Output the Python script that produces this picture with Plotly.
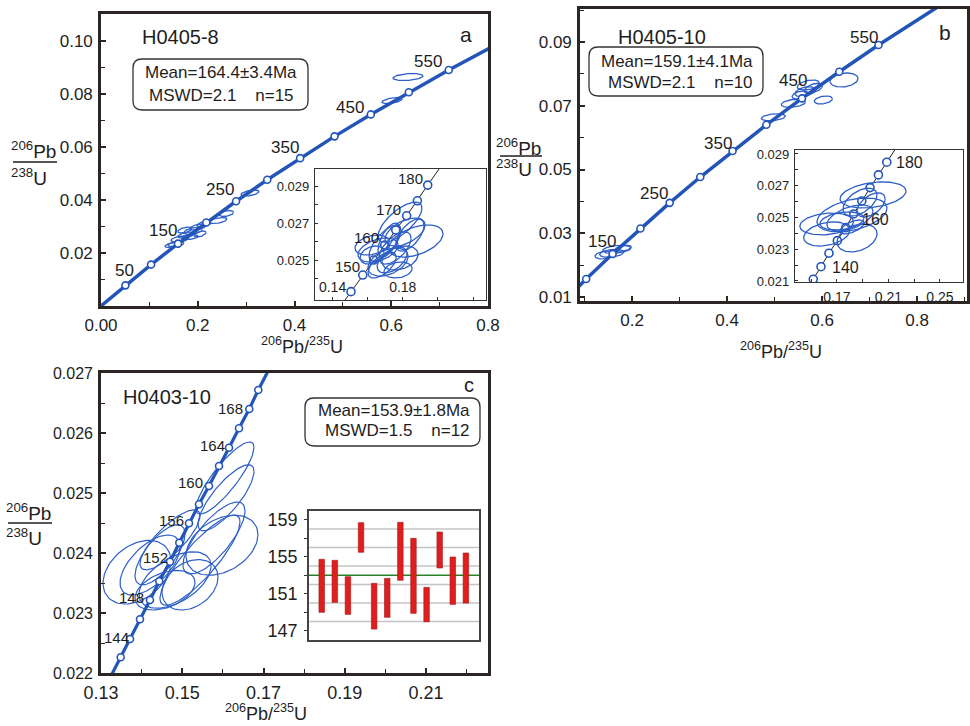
import numpy as np
import plotly.graph_objects as go

W, H = 970, 726
def PX(x): return x / W
def PY(y): return 1 - y / H

FONT = "Liberation Sans, Arial, sans-serif"
BLUE = "rgb(35,85,185)"
EBLUE = "rgb(45,95,200)"
FRAME = "#2b2523"
TXT = "#1e1e1e"

# ---------------- data ----------------
# Panel a / b main concordia (ages in Ma and their coordinates)
conc_ages = [0, 50, 100, 150, 200, 250, 300, 350, 400, 450, 500, 550, 600, 650]
conc_x = [0.0, 0.0505, 0.1035, 0.1592, 0.2177, 0.2792, 0.3437, 0.4116, 0.4828, 0.5577, 0.6363, 0.7189, 0.8056, 0.8968]
conc_y = [0.0, 0.00779, 0.01563, 0.02354, 0.03151, 0.03954, 0.04764, 0.05580, 0.06402, 0.07230, 0.08065, 0.08906, 0.09754, 0.10609]
conc_label_ages = [50, 150, 250, 350, 450, 550]

# Panel a ellipses (206Pb/235U, 206Pb/238U, half-widths, rho)
ell_a_x = [0.6346, 0.6016, 0.3080, 0.2594, 0.2419, 0.2005, 0.1902, 0.1757, 0.1633, 0.1550, 0.1840, 0.2047, 0.1736, 0.1468, 0.2129]
ell_a_y = [0.08642, 0.07755, 0.04264, 0.03491, 0.03226, 0.02981, 0.02830, 0.02679, 0.02528, 0.02340, 0.02604, 0.02717, 0.02868, 0.02302, 0.03094]
ell_a_sx = [0.0310, 0.0207, 0.0186, 0.0145, 0.0186, 0.0165, 0.0186, 0.0165, 0.0186, 0.0165, 0.0165, 0.0124, 0.0145, 0.0145, 0.0145]
ell_a_sy = [0.00132, 0.00113, 0.00113, 0.00113, 0.00113, 0.00113, 0.00132, 0.00113, 0.00113, 0.00094, 0.00094, 0.00113, 0.00113, 0.00094, 0.00113]
ell_a_rho = [0.3, 0.5, 0.5, 0.4, 0.5, 0.5, 0.4, 0.5, 0.4, 0.4, 0.3, 0.5, 0.5, 0.5, 0.5]

# Panel a inset
ins_a_cx = [0.1443, 0.1505, 0.1572, 0.1634, 0.1697, 0.1760, 0.1822, 0.1883, 0.1942, 0.2003, 0.2063]
ins_a_cy = [0.02247, 0.02329, 0.02419, 0.02500, 0.02581, 0.02662, 0.02739, 0.02820, 0.02905, 0.02987, 0.03070]
ins_a_x = [0.1875, 0.1784, 0.1625, 0.1716, 0.1739, 0.1722, 0.1813, 0.1699, 0.1784, 0.1682, 0.1659, 0.1841, 0.1756, 0.1625, 0.1773]
ins_a_y = [0.02603, 0.02705, 0.02581, 0.02489, 0.02500, 0.02608, 0.02651, 0.02592, 0.02511, 0.02473, 0.02554, 0.02635, 0.02565, 0.02527, 0.02446]
ins_a_sx = [0.0154, 0.0125, 0.0097, 0.0114, 0.0085, 0.0063, 0.0114, 0.0091, 0.0103, 0.0080, 0.0114, 0.0080, 0.0091, 0.0068, 0.0080]
ins_a_sy = [0.00087, 0.00108, 0.00054, 0.00076, 0.00070, 0.00092, 0.00076, 0.00097, 0.00065, 0.00070, 0.00065, 0.00087, 0.00087, 0.00049, 0.00043]
ins_a_rho = [0.45, 0.7, 0.3, 0.4, 0.5, 0.6, 0.5, 0.7, 0.3, 0.6, 0.4, 0.6, 0.6, 0.3, 0.2]

# Panel b ellipses
ell_b_x = [0.6463, 0.6027, 0.5396, 0.4975, 0.5711, 0.5642, 0.5817, 0.5537, 0.1572, 0.1678, 0.1431, 0.1817]
ell_b_y = [0.07808, 0.07180, 0.07077, 0.06638, 0.07651, 0.07441, 0.07548, 0.07337, 0.02371, 0.02496, 0.02318, 0.02528]
ell_b_sx = [0.0295, 0.0190, 0.0253, 0.0253, 0.0232, 0.0211, 0.0190, 0.0168, 0.0253, 0.0295, 0.0211, 0.0168]
ell_b_sy = [0.0022, 0.00125, 0.00125, 0.0011, 0.00157, 0.00157, 0.00157, 0.00125, 0.00125, 0.00125, 0.00125, 0.00094]
ell_b_rho = [0.2, 0.3, 0.3, 0.3, 0.4, 0.4, 0.5, 0.4, 0.3, 0.3, 0.3, 0.4]

# Panel b inset
ins_b_cx = [0.1452, 0.1516, 0.1576, 0.1638, 0.1703, 0.1768, 0.1830, 0.1893, 0.1957, 0.2022, 0.2087, 0.2151, 0.2215]
ins_b_cy = [0.02031, 0.02111, 0.02190, 0.02275, 0.02354, 0.02436, 0.02522, 0.02604, 0.02688, 0.02768, 0.02848, 0.02928, 0.03008]
ins_b_x = [0.1620, 0.1620, 0.1980, 0.1879, 0.1817, 0.1856, 0.1817, 0.1965, 0.1801, 0.1739]
ins_b_y = [0.02459, 0.02396, 0.02642, 0.02597, 0.02516, 0.02371, 0.02440, 0.02579, 0.02497, 0.02478]
ins_b_sx = [0.0208, 0.0179, 0.0256, 0.0132, 0.0272, 0.0155, 0.0093, 0.0109, 0.0179, 0.0171]
ins_b_sy = [0.00069, 0.00076, 0.00082, 0.00088, 0.00107, 0.00088, 0.00044, 0.00076, 0.00082, 0.00057]
ins_b_rho = [0.2, 0.3, 0.3, 0.5, 0.4, 0.3, 0.6, 0.5, 0.5, 0.3]

# Panel c concordia (ages 140..172 Ma, every 2 Ma)
conc_c_x = [0.13239, 0.13485, 0.13714, 0.13960, 0.14206, 0.14435, 0.14698, 0.14927, 0.15166,
            0.15412, 0.15658, 0.15905, 0.16151, 0.16397, 0.16650, 0.16872, 0.17118]
conc_c_y = [0.021942, 0.022262, 0.022567, 0.022895, 0.023217, 0.023528, 0.023855, 0.024172, 0.024495,
            0.024812, 0.025117, 0.025450, 0.025755, 0.026078, 0.026400, 0.026717, 0.027040]
ell_c_x = [0.16052, 0.16077, 0.15781, 0.15978, 0.13886, 0.14206, 0.14822, 0.15191, 0.14452, 0.14698, 0.15437, 0.14575]
ell_c_y = [0.02525, 0.02492, 0.02425, 0.02413, 0.02368, 0.02380, 0.02355, 0.02347, 0.02397, 0.02422, 0.02388, 0.02338]
ell_c_sx = [0.00714, 0.00689, 0.00763, 0.00886, 0.00837, 0.00738, 0.00886, 0.00689, 0.00615, 0.00738, 0.00985, 0.00738]
ell_c_sy = [0.00060, 0.00055, 0.00060, 0.00050, 0.00053, 0.00050, 0.00047, 0.00042, 0.00050, 0.00050, 0.00075, 0.00033]
ell_c_rho = [0.85, 0.8, 0.75, 0.35, 0.35, 0.6, 0.5, 0.3, 0.7, 0.8, 0.85, 0.4]

# Panel c inset: weighted-mean age bars (Ma)
bar_idx = list(range(1, 13))
bar_lo = [148.99, 150.07, 148.77, 155.48, 147.18, 148.45, 152.45, 148.88, 147.97, 153.78, 149.85, 149.99]
bar_hi = [154.72, 154.61, 152.84, 158.68, 152.12, 152.66, 158.72, 156.99, 151.69, 157.67, 154.97, 155.40]
mean_c_line = 153.0
grid_c = [148, 150, 152, 154, 156, 158]

# ---------------- helpers ----------------
def ellipses(cx, cy, sx, sy, rho, n=80):
    xs, ys = [], []
    t = np.linspace(0, 2 * np.pi, n)
    for a, b, c, d, r in zip(cx, cy, sx, sy, rho):
        xs += list(a + c * np.cos(t)) + [None]
        ys += list(b + d * (r * np.cos(t) + np.sqrt(1 - r * r) * np.sin(t))) + [None]
    return xs, ys

fig = go.Figure()

def add_ell(cx, cy, sx, sy, rho, xa, ya, w=1.3):
    xs, ys = ellipses(cx, cy, sx, sy, rho)
    fig.add_trace(go.Scatter(x=xs, y=ys, mode="lines", line=dict(color=EBLUE, width=w),
                             xaxis=xa, yaxis=ya, hoverinfo="skip"))

def add_conc(x, y, mx, my, xa, ya, lw, lc, ms):
    fig.add_trace(go.Scatter(x=x, y=y, mode="lines", line=dict(color=lc, width=lw),
                             xaxis=xa, yaxis=ya, hoverinfo="skip"))
    fig.add_trace(go.Scatter(x=mx, y=my, mode="markers",
                             marker=dict(size=ms, color="white", line=dict(color=BLUE, width=1.6)),
                             xaxis=xa, yaxis=ya, hoverinfo="skip"))

# Panel a
add_ell(ell_a_x, ell_a_y, ell_a_sx, ell_a_sy, ell_a_rho, "x", "y")
add_conc(conc_x, conc_y, conc_x[1:12], conc_y[1:12], "x", "y", 3.5, BLUE, 7)
add_conc(ins_a_cx, ins_a_cy, ins_a_cx[1:9], ins_a_cy[1:9], "x2", "y2", 1.0, "#222", 8)
add_ell(ins_a_x, ins_a_y, ins_a_sx, ins_a_sy, ins_a_rho, "x2", "y2", 1.3)
# Panel b
add_ell(ell_b_x, ell_b_y, ell_b_sx, ell_b_sy, ell_b_rho, "x3", "y3")
add_conc(conc_x, conc_y, conc_x[2:12], conc_y[2:12], "x3", "y3", 3.5, BLUE, 7)
add_conc(ins_b_cx, ins_b_cy, ins_b_cx[1:11], ins_b_cy[1:11], "x4", "y4", 1.0, "#222", 8)
add_ell(ins_b_x, ins_b_y, ins_b_sx, ins_b_sy, ins_b_rho, "x4", "y4", 1.3)
# Panel c
add_ell(ell_c_x, ell_c_y, ell_c_sx, ell_c_sy, ell_c_rho, "x5", "y5", 1.2)
add_conc(conc_c_x, conc_c_y, conc_c_x[1:16], conc_c_y[1:16], "x5", "y5", 3.2, BLUE, 7)
fig.add_trace(go.Bar(x=bar_idx, y=[h - l for h, l in zip(bar_hi, bar_lo)], base=bar_lo, width=0.42,
                     marker=dict(color="rgb(225,30,30)", line=dict(color="rgb(160,20,20)", width=0.6)),
                     xaxis="x6", yaxis="y6", hoverinfo="skip"))

# ---------------- axes ----------------
def main_axis(dom, rng, tv, tt, minor, anchor, size=17):
    return dict(domain=dom, range=rng, anchor=anchor, showline=True, mirror=True, automargin=False,
                linewidth=2.6, linecolor=FRAME, ticks="inside", ticklen=5, tickwidth=1.5,
                tickcolor=FRAME, tickvals=tv, ticktext=tt, showgrid=False, zeroline=False,
                tickfont=dict(family=FONT, size=size, color=TXT), ticklabelstandoff=2,
                minor=dict(tickvals=minor, ticks="inside", ticklen=4, tickwidth=1.3, tickcolor=FRAME))

def inset_axis(dom, rng, tv, tt, minor, anchor, size=13, inside=False, lw=1.3):
    d = dict(domain=dom, range=rng, anchor=anchor, showline=True, mirror=True, automargin=False,
             linewidth=lw, linecolor="#333", ticks="inside", ticklen=3, tickcolor="#333",
             tickvals=tv, ticktext=tt, showgrid=False, zeroline=False,
             tickfont=dict(family=FONT, size=size, color=TXT), ticklabelstandoff=2,
             minor=dict(tickvals=minor, ticks="inside", ticklen=3, tickcolor="#333"))
    if inside:
        d["ticklabelposition"] = "inside"
    return d

lay = dict(width=W, height=H, autosize=False,
           margin=dict(l=0, r=0, t=0, b=0, pad=0, autoexpand=False), showlegend=False,
           paper_bgcolor="white", plot_bgcolor="rgba(0,0,0,0)", barmode="overlay")

lay["xaxis"] = main_axis([PX(101), PX(488)], [0, 0.8], [0, 0.2, 0.4, 0.6, 0.8],
                         ["0.00", "0.2", "0.4", "0.6", "0.8"], [0.1, 0.3, 0.5, 0.7], "y")
lay["yaxis"] = main_axis([PY(306), PY(14)], [0, 0.1102], [0.02, 0.04, 0.06, 0.08, 0.10],
                         ["0.02", "0.04", "0.06", "0.08", "0.10"], [0.01, 0.03, 0.05, 0.07, 0.09], "x")
lay["xaxis2"] = inset_axis([PX(315), PX(486)], [0.130, 0.2274], [0.14, 0.18, 0.22],
                           ["0.14", "0.18", "0.22"], [0.16, 0.20], "y2", inside=True, size=14)
lay["yaxis2"] = inset_axis([PY(300), PY(169)], [0.02284, 0.02992], [0.023, 0.025, 0.027, 0.029],
                           ["0.023", "0.025", "0.027", "0.029"], [0.024, 0.026, 0.028], "x2")
lay["xaxis3"] = main_axis([PX(580), PX(967)], [0.0905, 0.9052], [0.2, 0.4, 0.6, 0.8],
                          ["0.2", "0.4", "0.6", "0.8"], [0.1, 0.3, 0.5, 0.7, 0.9], "y3")
lay["yaxis3"] = main_axis([PY(301), PY(9)], [0.008745, 0.10035], [0.01, 0.03, 0.05, 0.07, 0.09],
                          ["0.01", "0.03", "0.05", "0.07", "0.09"], [0.02, 0.04, 0.06, 0.08, 0.10], "x3")
lay["xaxis4"] = inset_axis([PX(795), PX(963)], [0.1374, 0.2679], [0.17, 0.21, 0.25],
                           ["0.17", "0.21", "0.25"], [0.15, 0.19, 0.23], "y4", size=14)
lay["yaxis4"] = inset_axis([PY(282), PY(150)], [0.020935, 0.02925], [0.021, 0.023, 0.025, 0.027, 0.029],
                           ["0.021", "0.023", "0.025", "0.027", "0.029"], [0.022, 0.024, 0.026, 0.028], "x4")
lay["xaxis5"] = main_axis([PX(101), PX(488)], [0.13, 0.22526], [0.13, 0.15, 0.17, 0.19, 0.21],
                          ["0.13", "0.15", "0.17", "0.19", "0.21"], [0.14, 0.16, 0.18, 0.20, 0.22], "y5", size=18)
lay["yaxis5"] = main_axis([PY(673), PY(373)], [0.022, 0.027], [0.022, 0.023, 0.024, 0.025, 0.026, 0.027],
                          ["0.022", "0.023", "0.024", "0.025", "0.026", "0.027"],
                          [0.0225, 0.0235, 0.0245, 0.0255, 0.0265], "x5", size=16)
lay["xaxis6"] = dict(domain=[PX(309), PX(479)], range=[0.03, 13.0], anchor="y6", showline=True, mirror=True,
                     automargin=False, linewidth=1.8, linecolor="#444", ticks="", showticklabels=False,
                     showgrid=False, zeroline=False)
lay["yaxis6"] = dict(domain=[PY(640), PY(511)], range=[146.0, 159.94], anchor="x6", showline=True, mirror=True,
                     automargin=False, linewidth=1.8, linecolor="#444", ticks="outside", ticklen=3, tickcolor="#333",
                     tickvals=[147, 151, 155, 159], showgrid=False, zeroline=False, ticklabelstandoff=3,
                     tickfont=dict(family=FONT, size=18, color=TXT),
                     minor=dict(tickvals=[149, 153, 157], ticks="outside", ticklen=3, tickcolor="#333"))

# ---------------- shapes ----------------
shapes = []
def rrect(x0, y0, x1, y1, r=9):
    p = (f"M {PX(x0+r)},{PY(y0)} L {PX(x1-r)},{PY(y0)} Q {PX(x1)},{PY(y0)} {PX(x1)},{PY(y0+r)} "
         f"L {PX(x1)},{PY(y1-r)} Q {PX(x1)},{PY(y1)} {PX(x1-r)},{PY(y1)} "
         f"L {PX(x0+r)},{PY(y1)} Q {PX(x0)},{PY(y1)} {PX(x0)},{PY(y1-r)} "
         f"L {PX(x0)},{PY(y0+r)} Q {PX(x0)},{PY(y0)} {PX(x0+r)},{PY(y0)} Z")
    shapes.append(dict(type="path", path=p, xref="paper", yref="paper",
                       line=dict(color="#333", width=1.3), fillcolor="rgba(0,0,0,0)"))
rrect(133, 59, 308, 110)
rrect(589, 47, 763, 96)
rrect(305, 398, 480, 446)

def hline(x0, x1, y):
    shapes.append(dict(type="line", xref="paper", yref="paper", x0=PX(x0), x1=PX(x1), y0=PY(y), y1=PY(y),
                       line=dict(color=TXT, width=1.3)))
hline(13, 57, 162)
hline(500, 542, 156)
hline(8, 52, 523)

for g in grid_c:
    shapes.append(dict(type="line", xref="x6 domain", yref="y6", x0=0, x1=1, y0=g, y1=g,
                       layer="below", line=dict(color="#c4c4c4", width=1.6)))
shapes.append(dict(type="line", xref="x6 domain", yref="y6", x0=0, x1=1, y0=mean_c_line, y1=mean_c_line,
                   layer="below", line=dict(color="rgb(40,130,40)", width=1.5)))
lay["shapes"] = shapes

# ---------------- text ----------------
ann = []
def T(text, x, y, size, xanchor="center"):
    ann.append(dict(text=text, x=PX(x), y=PY(y), xref="paper", yref="paper", showarrow=False,
                    xanchor=xanchor, yanchor="middle", font=dict(family=FONT, size=size, color=TXT)))

NB = "\u00a0"
# panel a
T("H0405-8", 180, 37, 20)
T("a", 466, 35, 21)
T("Mean=164.4±3.4Ma", 221, 73, 17)
T("MSWD=2.1" + NB * 4 + "n=15", 221, 95, 17)
for lab, (x, y) in zip(conc_label_ages, [(125, 270), (163, 231), (220, 190), (285, 147), (350, 107), (428, 61)]):
    T(str(lab), x, y, 17)
T("<sup>206</sup>Pb", 58, 150, 19, "right")
T("<sup>238</sup>U", 49, 177, 19, "right")
T("<sup>206</sup>Pb/<sup>235</sup>U", 302, 345, 18)
for lab, (x, y) in zip([150, 160, 170, 180], [(347, 266), (366, 237), (388, 210), (410, 178)]):
    T(str(lab), x, y, 15)
# panel b
T("H0405-10", 662, 37, 20)
T("b", 945, 33, 21)
T("Mean=159.1±4.1Ma", 677, 62, 17)
T("MSWD=2.1" + NB * 4 + "n=10", 680, 82, 17)
for lab, (x, y) in zip([150, 250, 350, 450, 550], [(602, 242), (654, 194), (718, 143), (793, 80), (864, 38)]):
    T(str(lab), x, y, 17)
T("<sup>206</sup>Pb", 543, 147, 19, "right")
T("<sup>238</sup>U", 534, 168, 19, "right")
T("<sup>206</sup>Pb/<sup>235</sup>U", 781, 350, 18)
for lab, (x, y) in zip([140, 160, 180], [(845, 268), (875, 219), (909, 162)]):
    T(str(lab), x, y, 16)
# panel c
T("H0403-10", 167, 397, 20)
T("c", 469, 385, 20)
T("Mean=153.9±1.8Ma", 394, 410, 17)
T("MSWD=1.5" + NB * 4 + "n=12", 397, 431, 17)
for lab, (x, y) in zip([144, 148, 152, 156, 160, 164, 168],
                       [(116, 637), (131, 597), (155, 557), (171, 520), (190, 482), (212, 445), (230, 408)]):
    T(str(lab), x, y, 15)
T("<sup>206</sup>Pb", 53, 512, 19, "right")
T("<sup>238</sup>U", 44, 537, 19, "right")
T("<sup>206</sup>Pb/<sup>235</sup>U", 266, 712, 18)
lay["annotations"] = ann

fig.update_layout(**lay)
fig.write_html("out.html")
